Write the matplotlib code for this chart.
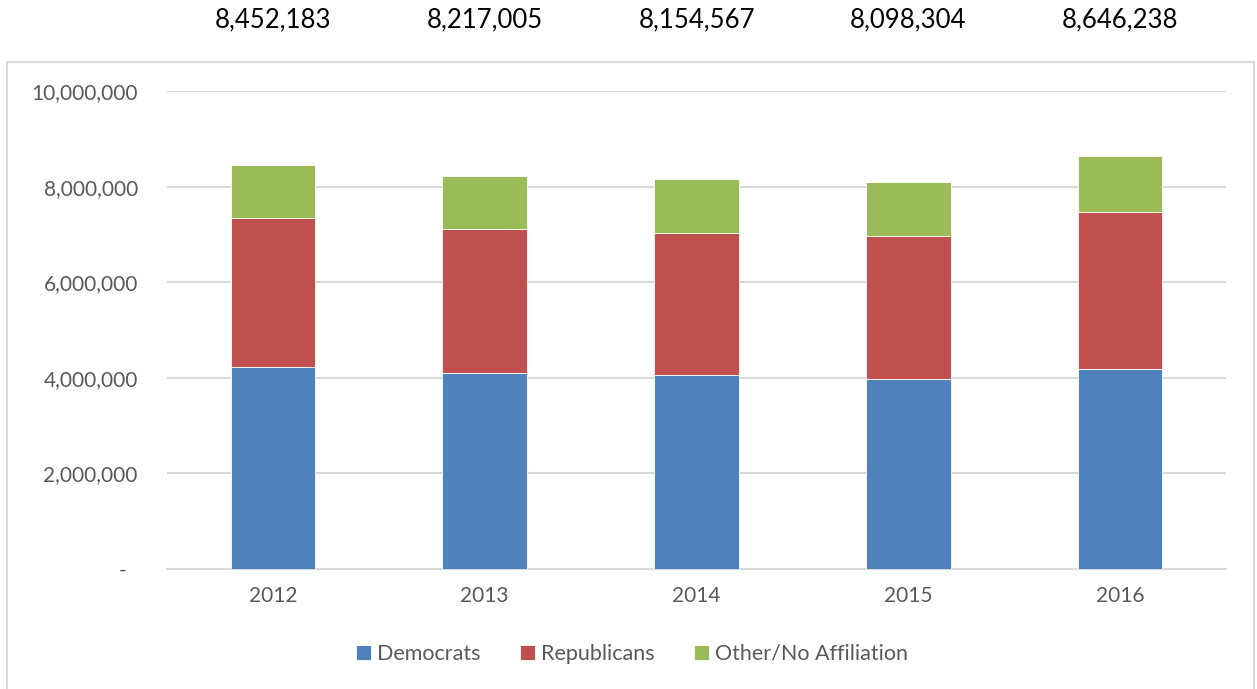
import matplotlib.pyplot as plt
import matplotlib.transforms as mtransforms
from matplotlib.patches import Rectangle
from matplotlib.ticker import FuncFormatter

plt.rcParams['font.family'] = ['Lato', 'DejaVu Sans']

# values
years = ["2012", "2013", "2014", "2015", "2016"]
democrats = [4230000, 4090000, 4050000, 3970000, 4180000]
republicans = [3110000, 3020000, 2980000, 3000000, 3280000]
other = [1112000, 1107000, 1125000, 1128000, 1186000]
totals = [8452183, 8217005, 8154567, 8098304, 8646238]

W, H = 1257, 689
fig = plt.figure(figsize=(W / 100, H / 100), dpi=100)

# light grey chart frame (bottom edge runs off the picture)
fig.patches.append(Rectangle((7 / W, -0.05), (1254 - 7) / W, 1.05 - 62 / H,
                             transform=fig.transFigure, fill=False,
                             edgecolor="#d9d9d9", linewidth=1.5))

ax = fig.add_axes([167 / W, 1 - 569 / H, (1226 - 167) / W, (569 - 91) / H])

x = range(len(years))
bw = 0.4
b1 = ax.bar(x, democrats, bw, color="#4F81BD", edgecolor="white", linewidth=0.6,
            label="Democrats", zorder=3)
bottom2 = [d for d in democrats]
b2 = ax.bar(x, republicans, bw, bottom=bottom2, color="#C0504D", edgecolor="white",
            linewidth=0.6, label="Republicans", zorder=3)
bottom3 = [d + r for d, r in zip(democrats, republicans)]
b3 = ax.bar(x, other, bw, bottom=bottom3, color="#9BBB59", edgecolor="white",
            linewidth=0.6, label="Other/No Affiliation", zorder=3)

ax.set_xlim(-0.5, len(years) - 0.5)
ax.set_ylim(0, 10000000)
ax.set_yticks([0, 2000000, 4000000, 6000000, 8000000, 10000000])
ax.yaxis.set_major_formatter(FuncFormatter(lambda v, p: "-  " if v == 0 else f"{v:,.0f}"))
ax.set_xticks(list(x))
ax.set_xticklabels(years)
ax.tick_params(axis="y", length=0, pad=21, labelsize=15, labelcolor="#595959")
ax.tick_params(axis="x", length=0, pad=12, labelsize=15, labelcolor="#595959")
ax.grid(axis="y", color="#d9d9d9", linewidth=1.5, zorder=0)
for s in ["top", "right", "left"]:
    ax.spines[s].set_visible(False)
ax.spines["bottom"].set_color("#d9d9d9")
ax.spines["bottom"].set_linewidth(1.5)

# totals above the chart frame
trans = mtransforms.blended_transform_factory(ax.transData, fig.transFigure)
for i, t in enumerate(totals):
    ax.text(i, 1 - 20 / H, f"{t:,}", transform=trans, ha="center", va="center",
            fontsize=18.5, color="black", clip_on=False)

fig.legend(handles=[b1, b2, b3], loc="center", bbox_to_anchor=(632 / W, 1 - 654 / H),
           ncol=3, frameon=False, fontsize=15.5, labelcolor="#595959",
           handlelength=0.7, handleheight=0.7, handletextpad=0.3, columnspacing=1.8)

fig.savefig("out.png", dpi=100)
